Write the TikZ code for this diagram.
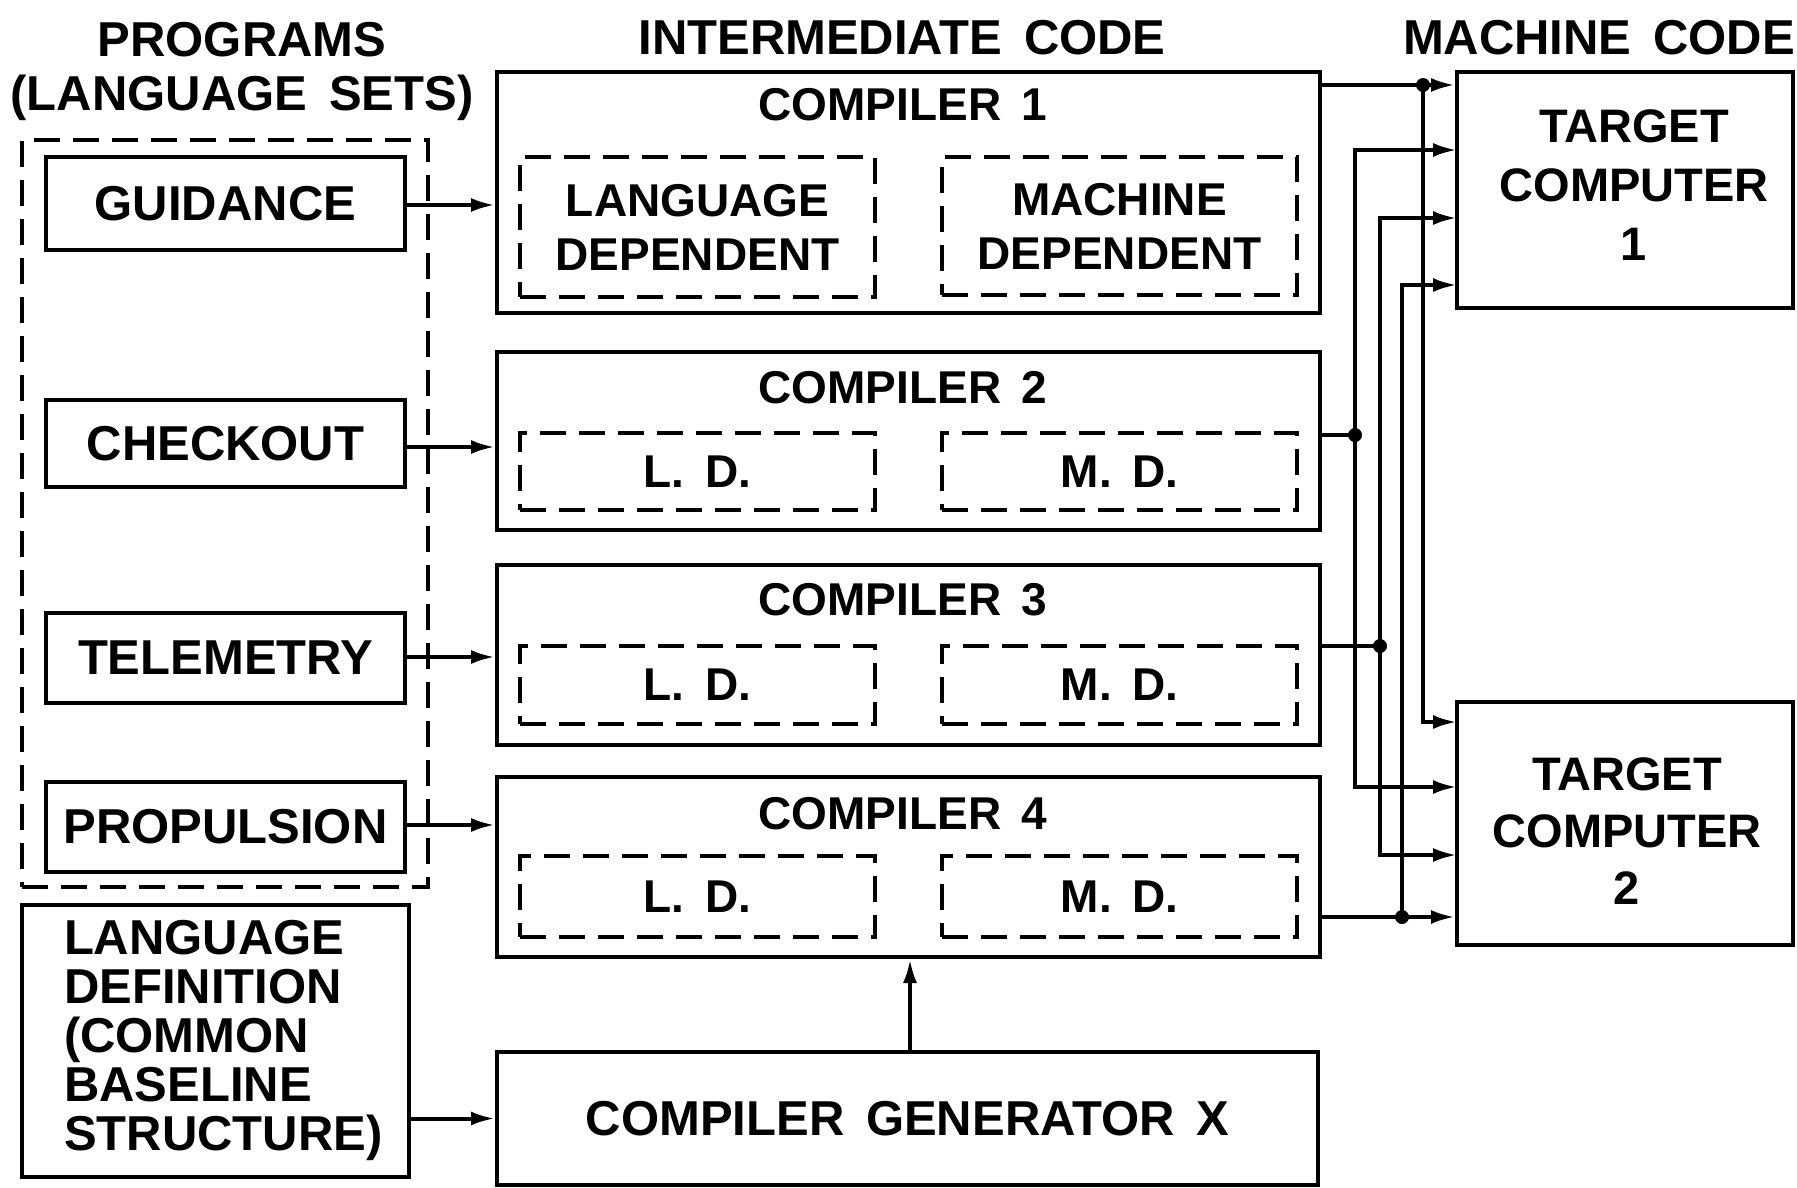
\documentclass[tikz,border=0pt]{standalone}
\usepackage{fontspec}
\setmainfont{Liberation Sans}[WordSpace=1.6]
\usetikzlibrary{arrows.meta}

\newcommand{\bigtxt}{\fontsize{49}{54}\selectfont\bfseries}
\newcommand{\midtxt}{\fontsize{46}{54}\selectfont\bfseries}

\tikzset{
  box/.style={draw, inner sep=0pt},
  dbox/.style={draw, inner sep=0pt, dash pattern=on 26pt off 13pt},
  prog/.style={box, minimum width=359, minimum height=90, font=\bigtxt},
  comp/.style={box, minimum width=823},
  part/.style={dbox, minimum width=355, font=\midtxt, align=center},
  tgt/.style={box, minimum width=336},
  head/.style={inner sep=0pt, font=\bigtxt, align=center},
  wire/.style={line width=4pt},
  dot/.style={fill},
}

\begin{document}
\begin{tikzpicture}[x=1pt, y=-1pt, line width=4pt, >={Latex[length=24pt,width=14pt]}]
    \useasboundingbox (0,0) rectangle (1797,1187);

    % Headings
    \node[head, anchor=north] (hprog) at (242,20) {PROGRAMS\\(LANGUAGE SETS)};
    \node[head] (hint) at (902,38) {INTERMEDIATE CODE};
    \node[head, anchor=east] (hmach) at (1797,38) {MACHINE CODE};

    % Programs
    \node[dbox, minimum width=406, minimum height=747] (progs) at (225,513.5) {};
    \node[prog, minimum height=93] (guid) at (225.5,203.5) {GUIDANCE};
    \node[prog, minimum height=87] (chk) at (225.5,443.5) {CHECKOUT};
    \node[prog] (tel) at (225.5,658) {TELEMETRY};
    \node[prog] (prop) at (225.5,827) {PROPULSION};

    % Language definition
    \node[box, minimum width=387, minimum height=272] (ldef) at (215.5,1041) {};
    \node[head, anchor=west, align=left, font=\fontsize{49}{49}\selectfont\bfseries] (ldtxt) at (62,1040)
        {LANGUAGE\\DEFINITION\\(COMMON\\BASELINE\\STRUCTURE)};

    % Compilers
    \node[comp, minimum height=241] (comp1) at (908.5,192.5) {};
    \node[comp, minimum height=178] (comp2) at (908.5,441) {};
    \node[comp, minimum height=180] (comp3) at (908.5,655) {};
    \node[comp, minimum height=180] (comp4) at (908.5,867) {};
    \node[head, font=\midtxt] (c1) at (903,105) {COMPILER 1};
    \node[head, font=\midtxt] (c2) at (903,388) {COMPILER 2};
    \node[head, font=\midtxt] (c3) at (903,600) {COMPILER 3};
    \node[head, font=\midtxt] (c4) at (903,814) {COMPILER 4};

    \node[part, minimum height=140] (ld1) at (697.5,227) {LANGUAGE\\DEPENDENT};
    \node[part, minimum height=138] (md1) at (1119.5,226) {MACHINE\\DEPENDENT};
    \node[part, minimum height=77] (ld2) at (697.5,471.5) {L. D.};
    \node[part, minimum height=77] (md2) at (1119.5,471.5) {M. D.};
    \node[part, minimum height=78] (ld3) at (697.5,685) {L. D.};
    \node[part, minimum height=78] (md3) at (1119.5,685) {M. D.};
    \node[part, minimum height=81] (ld4) at (697.5,896.5) {L. D.};
    \node[part, minimum height=81] (md4) at (1119.5,896.5) {M. D.};

    % Generator
    \node[box, minimum width=821, minimum height=133, font=\bigtxt] (gen) at (907.5,1118.5) {COMPILER GENERATOR X};

    % Targets
    \node[tgt, minimum height=236] (tgt1) at (1625,190) {};
    \node[tgt, minimum height=243] (tgt2) at (1625,823.5) {};
    \node[head, font=\fontsize{47}{59}\selectfont\bfseries] (t1txt) at (1634,185) {TARGET\\COMPUTER\\1};
    \node[head, font=\fontsize{47}{57}\selectfont\bfseries] (t2txt) at (1627,831) {TARGET\\COMPUTER\\2};

    % Inputs
    \draw[->] (guid.east |- 0,205) -- (comp1.west |- 0,205);
    \draw[->] (chk.east |- 0,447) -- (comp2.west |- 0,447);
    \draw[->] (tel.east |- 0,657) -- (comp3.west |- 0,657);
    \draw[->] (prop.east |- 0,825) -- (comp4.west |- 0,825);
    \draw[->] (ldef.east |- gen.west) -- (gen.west);
    \draw[->] (gen.north -| 910,0) -- (comp4.south -| 910,0);

    % Junctions on the buses
    \coordinate (jA) at (1423,85);
    \coordinate (jB) at (1355,435);
    \coordinate (jC) at (1380,646);
    \coordinate (jD) at (1402,917);

    % Target inputs
    \coordinate (t1a) at (tgt1.west |- jA);
    \coordinate (t1b) at (1457,150);
    \coordinate (t1c) at (1457,218);
    \coordinate (t1d) at (1457,285);
    \coordinate (t2a) at (1457,722);
    \coordinate (t2b) at (1457,787);
    \coordinate (t2c) at (1457,855);
    \coordinate (t2d) at (tgt2.west |- jD);

    % Buses
    \draw[wire] (jA -| comp1.east) -- (jA);
    \draw[wire, ->] (jA) -- (t1a);
    \draw[wire, ->] (jA) |- (t2a);
    \draw[wire] (jB -| comp2.east) -- (jB);
    \draw[wire, ->] (jB) |- (t1b);
    \draw[wire, ->] (jB) |- (t2b);
    \draw[wire] (jC -| comp3.east) -- (jC);
    \draw[wire, ->] (jC) |- (t1c);
    \draw[wire, ->] (jC) |- (t2c);
    \draw[wire] (jD -| comp4.east) -- (jD);
    \draw[wire, ->] (jD) -- (t2d);
    \draw[wire, ->] (jD) |- (t1d);
    \foreach \j in {jA,jB,jC,jD}
        \fill[dot] (\j) circle (7pt);
\end{tikzpicture}
\end{document}
